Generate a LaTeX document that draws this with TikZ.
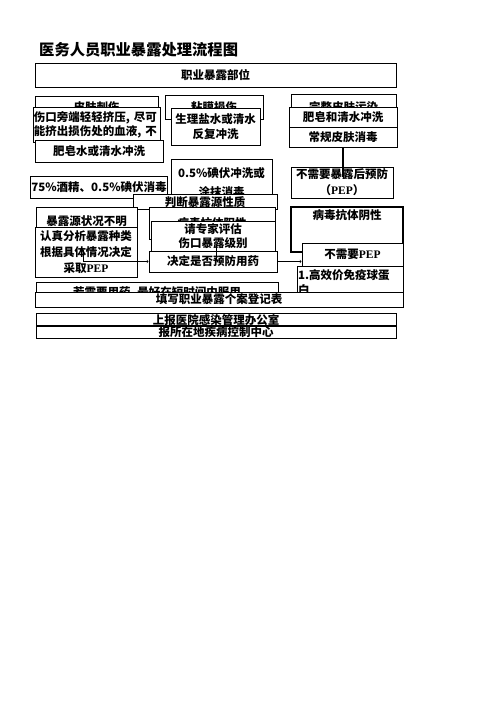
\documentclass[tikz,border=0pt]{standalone}
\usepackage{fontspec}
\newfontfamily\cjk{Noto Sans CJK SC}
\newfontfamily\lat{Liberation Serif}
\usetikzlibrary{positioning}
\tikzset{
  box/.style={draw, fill=white, line width=1pt, inner sep=1pt, align=center,
    font=\cjk\bfseries\fontsize{11.5}{14}\selectfont},
  txt/.style={inner sep=0pt, font=\cjk\bfseries\fontsize{11.5}{14}\selectfont},
}
\begin{document}
\begin{tikzpicture}[x=1pt,y=-1pt]
\useasboundingbox[fill=white] (0,0) rectangle (496,702);
% title
\node[anchor=west, inner sep=0pt, font=\cjk\bfseries\fontsize{15.3}{18}\selectfont] (title) at (39,50) {医务人员职业暴露处理流程图};
\node[box, minimum width=361pt, minimum height=24pt] (bw) at (215.5,75) {职业暴露部位};

% skin injury column
\node[box, minimum width=123pt, minimum height=22pt] (pfcs) at (96.5,107) {皮肤刺伤};
\node[box, minimum width=127pt, minimum height=35pt, text width=125pt, align=left] (skjy) at (96.5,124.5) {伤口旁端轻轻挤压, 尽可\\能挤出损伤处的血液, 不};
\node[box, minimum width=128pt, minimum height=22pt] (fzs) at (99,151) {肥皂水或清水冲洗};
\node[box, minimum width=128pt, minimum height=22pt] (jj) at (99,187) {75\%酒精、0.5\%碘伏消毒};

% mucosa column
\node[box, minimum width=98pt, minimum height=24pt] (nmss) at (214,107) {粘膜损伤};
\node[box, minimum width=89pt, minimum height=37pt, font=\cjk\bfseries\fontsize{11.5}{15}\selectfont] (slys) at (215.5,126.5) {生理盐水或清水\\反复冲洗};
\node[box, minimum width=101pt, minimum height=47pt, font=\cjk\bfseries\fontsize{11.5}{19}\selectfont] (dfcx) at (221.5,182.5) {0.5\%碘伏冲洗或\\涂抹消毒};

% intact skin column
\node[box, minimum width=105pt, minimum height=26pt] (wzpf) at (343.5,107) {完整皮肤污染};
\node[box, minimum width=108pt, minimum height=21pt] (fzqs) at (343,117.5) {肥皂和清水冲洗};
\node[box, minimum width=108pt, minimum height=20pt] (cgxd) at (343,137.5) {常规皮肤消毒};
\node[box, minimum width=102pt, minimum height=31pt, font=\cjk\bfseries\fontsize{11.5}{16}\selectfont] (bxyp) at (342,182.5) {不需要暴露后预防\\（{\lat PEP}）};
\coordinate (bxyp-in) at (343,177);
\draw[line width=2pt] (cgxd.south) -- (bxyp-in);

% source of exposure
\node[box, minimum width=144pt, minimum height=15pt] (pdxz) at (205,202) {判断暴露源性质};
\node[box, minimum width=101pt, minimum height=28pt] (blbm) at (86.5,221) {暴露源状况不明};
\node[box, minimum width=102pt, minimum height=50pt, font=\cjk\bfseries\fontsize{11.5}{16}\selectfont] (rzfx) at (86,252) {认真分析暴露种类\\根据具体情况决定\\采取{\lat PEP}};
\node[box, minimum width=126pt, minimum height=32pt] (bdyx) at (212,223) {病毒抗体阳性};
\node[box, minimum width=124pt, minimum height=30pt] (qzj) at (213,236.5) {请专家评估\\伤口暴露级别};
\node[box, minimum width=128pt, minimum height=21pt] (jdyy) at (213,261.5) {决定是否预防用药};
\draw ([xshift=3pt,yshift=-8pt]qzj.center) -- ([xshift=3pt,yshift=2pt]jdyy.center);
\coordinate (rz-out) at (83,250);
\draw[->] (rz-out) |- (jdyy.west);

\node[box, line width=1.6pt, minimum width=112pt, minimum height=45pt] (bdyy) at (347,229.5) {};
\node[txt, below=3pt of bdyy.north] (bdyy-t) {病毒抗体阴性};
\node[box, minimum width=101pt, minimum height=23pt] (bxpep) at (352.5,254.5) {不需要{\lat PEP}};
\draw[->] (jdyy.east) -- (jdyy.east -| bxpep.west);
\node[box, minimum width=106pt, minimum height=33pt, text width=104pt, align=left, font=\cjk\bfseries\fontsize{11.5}{15}\selectfont] (gxjm) at (350,282.5) {1.高效价免疫球蛋\\白};

% register and report
\node[box, minimum width=242pt, minimum height=22pt] (rbl) at (157,293) {若需要用药, 最好在短时间内服用};
\node[box, minimum width=368pt, minimum height=15pt] (txdj) at (219,299.5) {填写职业暴露个案登记表};
\node[box, fill=none, minimum width=360pt, minimum height=12pt] (sbyy) at (216,320) {上报医院感染管理办公室};
\node[box, fill=none, minimum width=360pt, minimum height=12pt] (bsjk) at (216,332) {报所在地疾病控制中心};
\end{tikzpicture}
\end{document}
